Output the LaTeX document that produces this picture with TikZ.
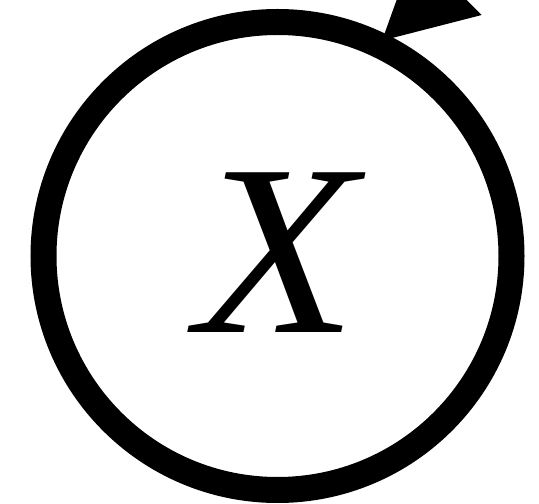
\documentclass[tikz,border=0pt]{standalone}
\usepackage{fontspec}
\setmainfont{Liberation Serif}
\begin{document}
\begin{tikzpicture}[x=1pt,y=1pt,
  ring/.style={line width=26pt},
  label/.style={inner sep=0pt,xscale=1.08,font=\fontsize{244}{244}\selectfont\itshape},
  tipfill/.style={fill=black}]
\useasboundingbox (0,0) rectangle (539,504);
\clip (0,0) rectangle (539,504);
\node[label] (x) at (277,251) {X};
\coordinate (c) at (277.5,248);
\draw[ring] (c) circle[radius=234];
\coordinate (d) at (382,463.4);
\coordinate (b) at (481.7,489);
\coordinate (t) at (415,555);
\fill[tipfill] (d) -- (b) -- (t) -- cycle;
\end{tikzpicture}
\end{document}
